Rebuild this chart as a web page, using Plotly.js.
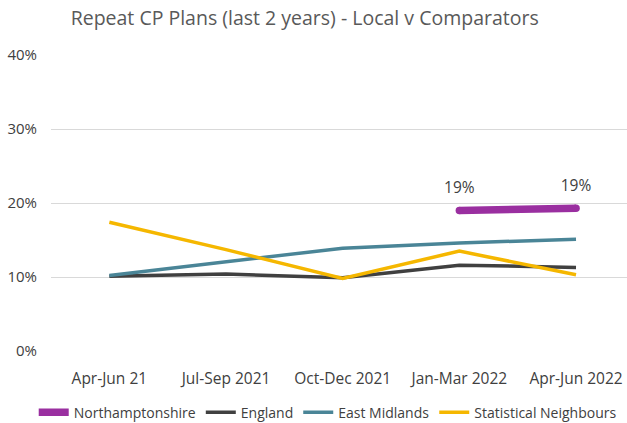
<!DOCTYPE html>
<html><head><meta charset="utf-8">
<script src="https://cdn.plot.ly/plotly-3.0.1.min.js"></script>
<style>html,body{margin:0;padding:0;background:#fff}#chart{width:627px;height:423px}</style>
</head><body><div id="chart"></div>
<script>
const categories = ["Apr-Jun 21", "Jul-Sep 2021", "Oct-Dec 2021", "Jan-Mar 2022", "Apr-Jun 2022"];
const northamptonshire = [null, null, null, 19.0, 19.3];
const northLabels = ["", "", "", "19%", "19%"];
const england = [10.1, 10.4, 9.9, 11.6, 11.3];
const eastMidlands = [10.2, 12.0, 13.9, 14.6, 15.1];
const statNeighbours = [17.4, 13.7, 9.8, 13.5, 10.3];
const yTicks = [0, 10, 20, 30, 40];
const yTickText = ["0%", "10%", "20%", "30%", "40%"];

const idx = categories.map((c, i) => i);
const font = "Open Sans, Noto Sans, sans-serif";
const PURPLE = "#9A2FA0";

const traces = [
  {x: idx, y: england, name: "England", mode: "lines", line: {color: "#404040", width: 3.5}, legendrank: 2},
  {x: idx, y: eastMidlands, name: "East Midlands", mode: "lines", line: {color: "#4A8597", width: 3.5}, legendrank: 3},
  {x: idx, y: statNeighbours, name: "Statistical Neighbours", mode: "lines", line: {color: "#F5B700", width: 3.5}, legendrank: 4},
  {x: idx, y: northamptonshire, name: "Northamptonshire", mode: "lines", line: {color: PURPLE, width: 7.5},
   connectgaps: false, legendrank: 1},
  {x: idx, y: northamptonshire, mode: "markers", marker: {color: PURPLE, size: 7.5}, showlegend: false},
  {x: idx, y: northamptonshire, mode: "markers+text", text: northLabels, textposition: "top center",
   textfont: {size: 15.5, color: "#404040", family: font}, marker: {color: "rgba(0,0,0,0)", size: 20},
   showlegend: false, cliponaxis: false}
];
traces.forEach(t => t.hoverinfo = "skip");

const layout = {
  width: 627, height: 423,
  margin: {l: 51, r: 0, t: 55, b: 72, autoexpand: false},
  paper_bgcolor: "#fff", plot_bgcolor: "#fff",
  font: {family: font, color: "#404040", size: 15},
  title: {text: "Repeat CP Plans (last 2 years) - Local v Comparators", x: 0.486, xanchor: "center", y: 0.957, yanchor: "middle",
          font: {size: 19.5, color: "#595959", family: font}},
  showlegend: true,
  legend: {orientation: "h", x: -0.03, xanchor: "left", y: -0.208, yanchor: "middle", traceorder: "normal",
           font: {size: 14, color: "#404040"}, itemwidth: 30, tracegroupgap: 0},
  xaxis: {range: [-0.5, 4.437], tickvals: idx, ticktext: categories, showgrid: false, zeroline: false, automargin: false,
          showline: false, ticks: "", tickfont: {size: 15.5, color: "#404040"}, ticklabelstandoff: 16, fixedrange: true},
  yaxis: {range: [0, 40], tickvals: yTicks, ticktext: yTickText, showgrid: true, gridcolor: "#D9D9D9", gridwidth: 1,
          zeroline: false, showline: false, automargin: false, ticks: "", tickfont: {size: 15, color: "#404040"}, ticklabelstandoff: 13, fixedrange: true}
};
Plotly.newPlot("chart", traces, layout, {displayModeBar: false, staticPlot: true});
</script></body></html>
